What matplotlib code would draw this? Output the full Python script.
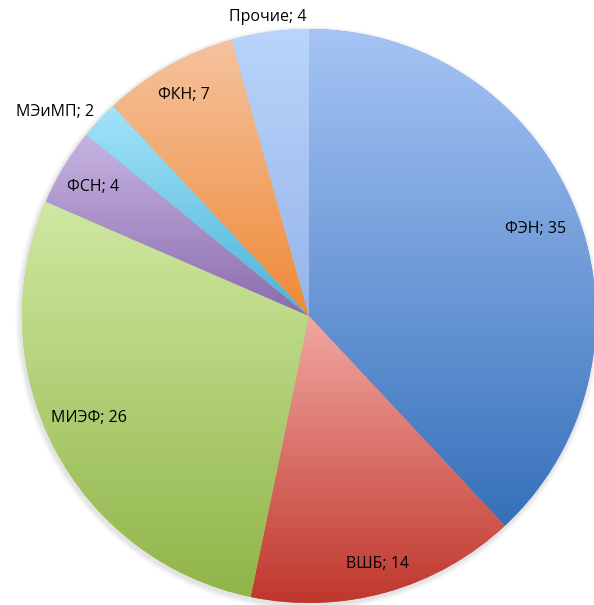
import numpy as np
import matplotlib
matplotlib.use("Agg")
import matplotlib.pyplot as plt
from matplotlib.colors import LinearSegmentedColormap
from matplotlib.patches import Circle

labels = ["ФЭН", "ВШБ", "МИЭФ", "ФСН", "МЭиМП", "ФКН", "Прочие"]
values = [35, 14, 26, 4, 2, 7, 4]
top_colors = ["#a6c4f5", "#f2a7a2", "#d0e8a2", "#c7b4e2", "#a3e3fa", "#f5c39e", "#bad5fc"]
bottom_colors = ["#3670ba", "#bf372c", "#90b548", "#8a6cad", "#4bb3d6", "#ef8a37", "#95b4e8"]
label_dist = [0.85, 0.89, 0.84, 0.88, 1.14, 0.89, 1.06]
label_dang = [0, 0, -3, 0, 4, 0, 0]

plt.rcParams['font.family'] = ['Open Sans', 'DejaVu Sans']

W, H = 594, 605
fig = plt.figure(figsize=(W / 100, H / 100), dpi=100)
ax = fig.add_axes([0, 0, 1, 1])
R = 287.0
cx, cy = 309.0, 316.0

# soft shadow
for dr, a in [(0.018, 0.05), (0.012, 0.07), (0.006, 0.09)]:
    ax.add_patch(Circle((-0.004, -0.008), 1 + dr, color='#7f7f7f', alpha=a, lw=0, zorder=0))

mid_colors = []
for t, b in zip(top_colors, bottom_colors):
    ct = np.array(matplotlib.colors.to_rgb(t)); cb = np.array(matplotlib.colors.to_rgb(b))
    mid_colors.append((ct + cb) / 2)

wedges, _ = ax.pie(values, startangle=90, counterclock=False, colors=mid_colors,
                   radius=1.0, center=(0, 0), frame=True,
                   wedgeprops=dict(linewidth=0))

grad = np.linspace(0, 1, 256).reshape(-1, 1)
for w, t, b in zip(wedges, top_colors, bottom_colors):
    ext = w.get_path().get_extents()
    cmap = LinearSegmentedColormap.from_list('g', [t, b])
    im = ax.imshow(grad, cmap=cmap, extent=(ext.x0, ext.x1, ext.y0, ext.y1),
                   origin='upper', aspect='auto', interpolation='bilinear', zorder=2)
    im.set_clip_path(w)

for w, lab, v, d, da in zip(wedges, labels, values, label_dist, label_dang):
    ang = np.deg2rad((w.theta1 + w.theta2) / 2 + da)
    x, y = d * np.cos(ang), d * np.sin(ang)
    ax.text(x, y, f"{lab}; {v}", ha='center', va='center_baseline', fontsize=11.5,
            color='#000000', zorder=5)

ax.set_xlim(-cx / R, (W - cx) / R)
ax.set_ylim(-(H - cy) / R, cy / R)
ax.set_aspect('auto')
ax.axis('off')
fig.savefig("out.png", dpi=100)
